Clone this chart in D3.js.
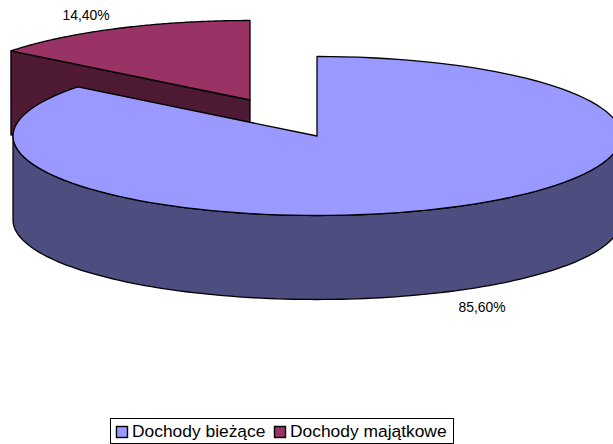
<!DOCTYPE html>
<html>
<head>
<meta charset="utf-8">
<script src="https://cdn.jsdelivr.net/npm/d3@7"></script>
<style>
html, body { margin: 0; padding: 0; background: #fff; }
svg { display: block; }
text { font-family: "Liberation Sans", Arial, sans-serif; fill: #000; }
</style>
</head>
<body>
<div id="chart"></div>
<script>
var categories = ["Dochody bieżące", "Dochody majątkowe"];
var shares = [85.6, 14.4];
var valueLabels = ["85,60%", "14,40%"];
var topColors = ["#9999ff", "#993366"];
var sideColors = ["#4d4d80", "#4d1933"];

var width = 613, height = 444;
var rx = 304, ry = 79.5, depth = 84;
var cx = 317, cy = 136;
// the smaller slice is pulled out of the pie
var offset = [[0, 0], [-67, -36]];

var svg = d3.select("#chart")
    .append("svg")
    .attr("width", width)
    .attr("height", height)
    .attr("viewBox", "0 0 " + width + " " + height);

var slices = d3.pie().sort(null)(shares);

function pt(a, ox, oy) {
    return [ox + rx * Math.sin(a), oy - ry * Math.cos(a)];
}

// sample an elliptical arc from a0 to a1
function arcPoints(a0, a1, ox, oy) {
    return d3.range(0, 121).map(function(i) {
        return pt(a0 + (a1 - a0) * i / 120, ox, oy);
    });
}

var line = d3.line();

function drawSlice(i) {
    var s = slices[i];
    var ox = cx + offset[i][0], oy = cy + offset[i][1];
    var g = svg.append("g").attr("stroke", "#000").attr("stroke-width", 1.3).attr("stroke-linejoin", "round");

    if (i === 1) {
        // cut face seen along the left edge
        var p = pt(s.startAngle, ox, oy);
        g.append("path")
            .attr("fill", sideColors[i])
            .attr("d", line([[ox, oy], p, [p[0], p[1] + depth], [ox, oy + depth]]) + "Z");
    } else {
        // outer wall, right side round the bottom to the left side
        var upper = arcPoints(Math.PI / 2, Math.PI * 1.5, ox, oy);
        var lower = upper.map(function(q) { return [q[0], q[1] + depth]; }).reverse();
        g.append("path")
            .attr("fill", sideColors[i])
            .attr("d", line(upper.concat(lower)) + "Z");
    }

    g.append("path")
        .attr("fill", topColors[i])
        .attr("d", line([[ox, oy]].concat(arcPoints(s.startAngle, s.endAngle, ox, oy))) + "Z");
}

drawSlice(1);
drawSlice(0);

svg.selectAll(".val")
    .data(valueLabels)
    .enter().append("text")
    .attr("class", "val")
    .attr("x", function(d, i) { return [482, 86][i]; })
    .attr("y", function(d, i) { return [312, 20][i]; })
    .attr("text-anchor", "middle")
    .attr("font-size", 13.9)
    .text(function(d) { return d; });

// legend
var legend = svg.append("g");
legend.append("rect")
    .attr("x", 110.5).attr("y", 418.5)
    .attr("width", 343).attr("height", 25)
    .attr("fill", "#fff").attr("stroke", "#000").attr("stroke-width", 1);

var legendX = [116, 274];
categories.forEach(function(c, i) {
    legend.append("rect")
        .attr("x", legendX[i] + 0.5).attr("y", 426.5)
        .attr("width", 11).attr("height", 11)
        .attr("fill", topColors[i]).attr("stroke", "#000").attr("stroke-width", 1.4);
    legend.append("text")
        .attr("x", legendX[i] + 16).attr("y", 437)
        .attr("font-size", 17.4)
        .text(c);
});
</script>
</body>
</html>
